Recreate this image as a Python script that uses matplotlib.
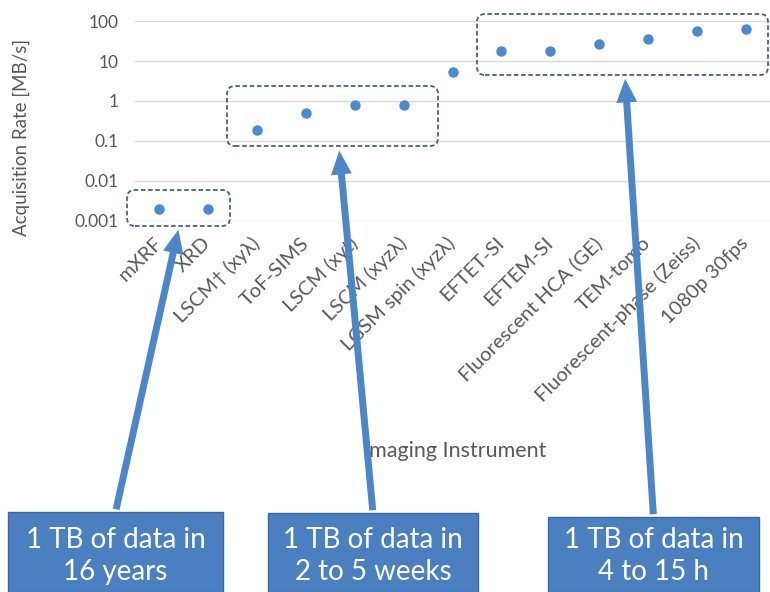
import matplotlib.pyplot as plt
from matplotlib.patches import FancyBboxPatch, Rectangle, FancyArrowPatch

plt.rcParams['font.family'] = ['Lato', 'DejaVu Sans']

instruments = ['mXRF', 'XRD', 'LSCM† (xyλ)', 'ToF-SIMS', 'LSCM (xyt)', 'LSCM (xyzλ)',
               'LGSM spin (xyzλ)', 'EFTET-SI', 'EFTEM-SI', 'Fluorescent HCA (GE)',
               'TEM-tomo', 'Fluorescent-phase (Zeiss)', '1080p 30fps']
rates = [0.002, 0.002, 0.19, 0.5, 0.8, 0.8, 5.3, 18, 18, 27, 36, 55, 63]

yticks = [0.001, 0.01, 0.1, 1, 10, 100]
ytick_labels = ['0.001', '0.01', '0.1', '1', '10', '100']

box_texts = ['1 TB of data in\n16 years', '1 TB of data in\n2 to 5 weeks', '1 TB of data in\n4 to 15 h']

W, H = 770, 592
grey = '#595959'
blue = '#4a8bd0'

fig = plt.figure(figsize=(W / 100, H / 100), dpi=100)
ax = fig.add_axes([135 / W, 1 - 221 / H, 635 / W, 200 / H])

x = list(range(len(instruments)))
ax.plot(x, rates, 'o', color=blue, markersize=6.5, zorder=3)
ax.set_yscale('log')
ax.set_ylim(0.001, 100)
ax.set_xlim(-0.5, 12.5)
ax.set_yticks(yticks)
ax.set_yticklabels(ytick_labels)
ax.minorticks_off()
ax.set_xticks(x)
ax.set_xticklabels(instruments, rotation=45, ha='right', va='center', rotation_mode='anchor')
ax.tick_params(axis='y', length=0, labelsize=12.5, labelcolor=grey, pad=12)
ax.tick_params(axis='x', length=0, labelsize=14.5, labelcolor=grey, pad=14)
ax.grid(axis='y', color='#d9d9d9', linewidth=1)
for s in ax.spines.values():
    s.set_visible(False)
ax.set_ylabel('Acquisition Rate [MB/s]', fontsize=13.5, color=grey)
ax.yaxis.set_label_coords(-0.165, 0.42)
fig.text(455 / W, 1 - 451 / H, 'Imaging Instrument', fontsize=15.5, color=grey, ha='center', va='center')

# dashed group boxes (pixel extents, top-left origin)
groups = [(127, 190, 230, 226), (227, 86, 438, 146), (477, 14, 768, 75)]
for x0, y0, x1, y1 in groups:
    fig.patches.append(FancyBboxPatch((x0, H - y1), x1 - x0, y1 - y0,
                                      boxstyle='round,pad=0,rounding_size=8',
                                      transform=None, fill=False, edgecolor='#4d6080',
                                      linestyle=(0, (2.5, 1.5)), linewidth=1.3, zorder=4))

# bottom boxes with arrows
boxes = [(8, 512, 223), (268, 513, 478), (548, 517, 759)]
tips = [(179, 227), (339, 148), (625, 76)]
for (bx0, by0, bx1), txt, (tx, ty) in zip(boxes, box_texts, tips):
    fig.patches.append(Rectangle((bx0, 0), bx1 - bx0, H - by0, transform=None,
                                 facecolor='#4a7fc0', edgecolor='#3a6aa6', linewidth=1, zorder=4))
    cx = (bx0 + bx1) / 2
    fig.text(cx / W, 1 - 556 / H, txt, fontsize=20, color='white', ha='center', va='center',
             linespacing=1.3, zorder=5)
    fig.patches.append(FancyArrowPatch((cx, H - by0), (tx, H - ty), transform=None,
                                       arrowstyle='simple,head_width=15,head_length=17,tail_width=5',
                                       mutation_scale=1, color='#4a86c8', linewidth=0, zorder=5))

fig.savefig('out.png', dpi=100)
